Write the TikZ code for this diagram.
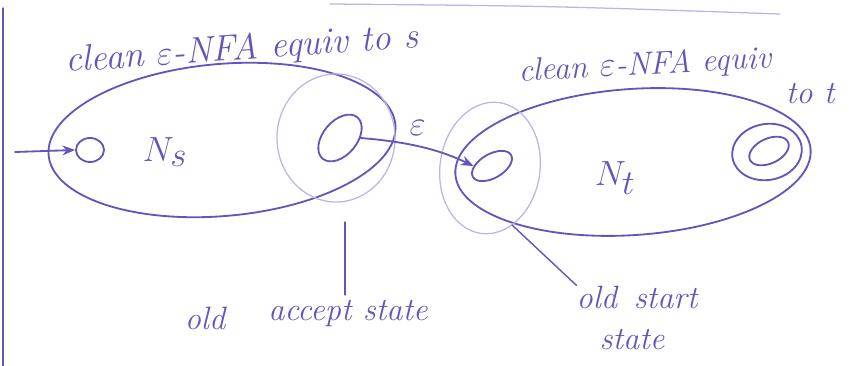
\documentclass[tikz,border=0pt]{standalone}
\usetikzlibrary{shapes.geometric,arrows.meta}
\definecolor{ink}{RGB}{96,86,188}
\definecolor{faint}{RGB}{186,182,228}
\tikzset{
  pen/.style={draw=ink, line width=1.3pt, line cap=round},
  thin pen/.style={draw=faint, line width=0.9pt, line cap=round},
  blob/.style={ellipse, pen, inner sep=0pt},
  scrawl/.style={text=ink, font=\fontsize{23}{26}\selectfont\itshape, inner sep=0pt},
  big scrawl/.style={scrawl, font=\fontsize{34}{38}\selectfont},
  tip/.style={-{Stealth[length=9pt,width=7pt]}},
}
\begin{document}
\begin{tikzpicture}[x=0.025cm, y=-0.025cm]
\useasboundingbox (0,0) rectangle (862,366);

% page edges
\coordinate (edgeTop) at (3,8);
\coordinate (edgeBot) at (3,366);
\draw[pen, line width=1pt] (edgeTop) -- (edgeBot);
\coordinate (ruleA) at (330,4);
\coordinate (ruleB) at (780,14);
\draw[thin pen] (ruleA) .. controls (550,6) .. (ruleB);

% automaton N_s
\node[blob, minimum width=8.7cm, minimum height=3.8cm, rotate=5] (Ns) at (222,140) {};
\node[blob, minimum width=0.7cm, minimum height=0.6cm] (s0) at (90,150) {};
\node[blob, minimum width=1.35cm, minimum height=0.85cm, rotate=50] (sacc) at (340,138) {};
\node[ellipse, thin pen, minimum width=2.95cm, minimum height=3.2cm] (saccRing) at (336,138) {};
\node[big scrawl] (NsLabel) at (165,152) {$N_s$};
\coordinate (inStart) at (15,152);
\draw[pen, tip] (inStart) -- (s0.west);

% automaton N_t
\node[blob, minimum width=8.9cm, minimum height=3.65cm, rotate=4] (Nt) at (633,162) {};
\node[blob, minimum width=1.1cm, minimum height=0.6cm, rotate=30] (t0) at (492,166) {};
\node[ellipse, thin pen, minimum width=2.5cm, minimum height=3.3cm, rotate=-8] (t0Ring) at (490,168) {};
\node[blob, minimum width=1.75cm, minimum height=1.4cm, rotate=10] (tacc) at (767,152) {};
\node[blob, minimum width=1.05cm, minimum height=0.62cm, rotate=25] (taccIn) at (769,151) {};
\node[big scrawl] (NtLabel) at (615,178) {$N_t$};

% epsilon link between the two machines
\draw[pen, tip] (sacc.-50) .. controls (410,142) and (440,150) .. (t0.150)
  node[scrawl, pos=0.45, above=7pt] (eps) {$\varepsilon$};

% titles
\node[scrawl, font=\fontsize{26}{30}\selectfont\itshape, rotate=4] (titleS) at (242,50) {clean $\varepsilon$-NFA equiv to s};
\node[scrawl, rotate=3] (titleT) at (645,66) {clean $\varepsilon$-NFA equiv};
\node[scrawl] (titleT2) at (810,94) {to t};

% pointers to the old states
\node[scrawl] (oldWord) at (205,318) {old};
\node[scrawl] (acceptState) at (348,314) {accept state};
\coordinate (accTip) at (345,222);
\draw[pen, line width=1pt, shorten >=4pt] (accTip) -- (acceptState.north -| accTip);
\node[scrawl] (oldStart) at (637,297) {old\, start};
\node[scrawl] (stateWord) at (632,340) {state};
\coordinate (startTip) at (512,225);
\draw[pen, line width=1pt] (startTip) -- (oldStart.north west);
\end{tikzpicture}
\end{document}
